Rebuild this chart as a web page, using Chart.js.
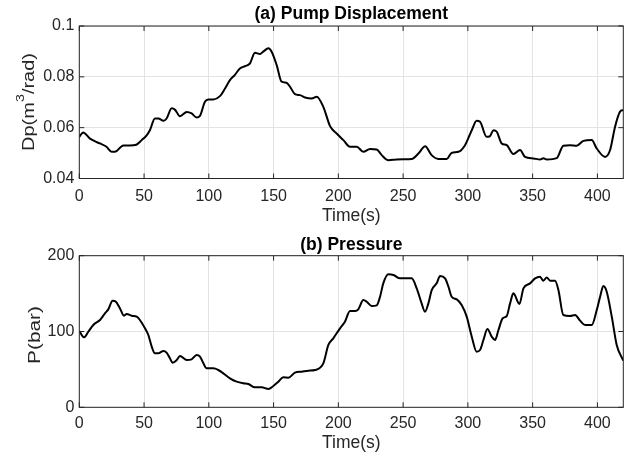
<!DOCTYPE html>
<html>
<head>
<meta charset="utf-8">
<script src="https://cdn.jsdelivr.net/npm/chart.js@4"></script>
<style>
  body { margin: 0; background: #fff; }
  .panel { position: absolute; left: 0; }
  canvas { display: block; }
</style>
</head>
<body>
<div class="panel" style="top:0"><canvas id="pump" width="632" height="228"></canvas></div>
<div class="panel" style="top:228px"><canvas id="pres" width="632" height="229"></canvas></div>
<script>
// (a) pump displacement
var dispTime = [0,3,8,13,16,21,25,27.5,34,39,44,48,52,54.5,58.4,61,65,67.4,71.3,74,77.7,83,86.7,90.6,93,97,99.6,103.5,108.6,112.5,116.3,120,124,128,131.8,135.6,139.5,142,146,148.5,152.4,156.2,160,162.7,166.5,170.4,174.3,179.4,183.3,188.4,193.6,198.7,203.9,209,214.2,219.3,224.5,229.6,233.5,238.6,245,250.2,256.6,261.8,267,272,277.2,283.7,287.5,292.7,297.8,303,306.8,309.4,314.5,317.1,319.7,322.3,326.1,330,335.1,340.3,344.1,350.6,355.7,358.3,360.9,368.6,373.7,378.9,384,389.2,395.6,399.5,405.9,409.8,413.6,417.5,420];
var dispValue = [0.0564,0.0581,0.0558,0.0544,0.0538,0.0525,0.0505,0.0505,0.053,0.053,0.0533,0.055,0.057,0.059,0.0636,0.0636,0.0627,0.0636,0.0676,0.067,0.0645,0.0662,0.0656,0.064,0.0645,0.0702,0.0711,0.0711,0.0724,0.0754,0.0787,0.0807,0.0833,0.0842,0.0853,0.0895,0.089,0.0899,0.0912,0.0899,0.0846,0.0781,0.0777,0.0761,0.0732,0.0728,0.0719,0.0715,0.0722,0.0682,0.0606,0.0577,0.0551,0.0525,0.0525,0.0505,0.0516,0.0514,0.0492,0.0472,0.0475,0.0476,0.0477,0.0498,0.0527,0.0492,0.0477,0.0477,0.0501,0.0505,0.0531,0.059,0.0627,0.0623,0.0564,0.0567,0.059,0.0584,0.0538,0.0531,0.0496,0.0512,0.0485,0.0479,0.0475,0.048,0.0475,0.048,0.0529,0.0531,0.0529,0.0548,0.0551,0.0518,0.0485,0.0512,0.0603,0.0663,0.0669];

// (b) pressure
var presTime = [0,3.6,7,10.8,16,19.8,22.4,25.7,28.3,31.4,34.5,36.6,40.4,44.3,46.8,50.7,53.3,55.9,58.4,61,64.9,67.4,70,72,75.2,77.7,83,86.7,90.6,93.2,95.8,98.3,103.5,107.3,111.2,116.3,121.5,126.6,130.5,135.6,140.8,146,149.8,153.7,157.5,161.4,166.5,171.7,176.8,182,188.4,192.3,196.1,201.3,205.1,209,212.9,215.4,219.3,221.9,225.7,229.6,232.2,234.7,238.6,242.5,247.6,252.8,256.6,260.5,264.3,266.9,269.5,272.1,275.9,278.5,282.4,285,287.5,291.4,295.2,299.1,303,306.8,309.4,312,315.1,318.4,321,323.6,326.9,330,332.6,335.1,339.8,342.9,348,351.9,355.7,358.3,360.9,363.5,367.3,369.9,373.7,378.9,382.8,386.6,390.5,395.6,399.5,402.1,404.6,407.2,411.1,414.9,420];
var presValue = [100.7,92.3,99.8,108.6,115.2,124,129.2,140.7,139.3,130.5,120.9,123.1,120.9,119.6,115.2,104.2,95.4,80,71.2,71.2,74.3,72.1,64.6,58.9,62.4,67.7,62.4,63.3,69,66.8,58,51.4,51.4,49.2,44.8,38.2,33.8,31.6,30.7,26.4,26.4,24.2,28.1,33.8,39.5,39.1,45.7,47,48.3,49.2,58,82.2,91,104.2,113,127,127,129.2,141.5,139.3,133.6,134.5,145.9,163.5,175.4,174.5,170.1,170.1,170.1,156.9,137.1,126.1,137.1,154.7,163.5,173.2,170.1,159.1,145.9,142.4,134.9,119.6,93.2,73.4,75.6,88.8,103.3,93.2,88.8,102,117.4,120.4,137.1,150.3,136.3,156.9,163.5,170.1,172.3,167,171.4,167,167,154.7,121.8,120.4,121.8,114.3,108.6,108.6,128.3,145.9,160,152.5,119.6,82.2,61.5];

var timeTicks = [0,50,100,150,200,250,300,350,400];
var dispTicks = [0.04,0.06,0.08,0.1];
var presTicks = [0,100,200];

var FONT = "'Liberation Sans', Arial, sans-serif";
var AXIS = "#262626";

// matlab style box with inward tick marks
var boxPlugin = {
  id: "box",
  afterDraw: function(chart) {
    var ctx = chart.ctx, a = chart.chartArea;
    var x = chart.scales.x, y = chart.scales.y;
    ctx.save();
    ctx.strokeStyle = AXIS;
    ctx.lineWidth = 1;
    ctx.strokeRect(a.left, a.top, a.right - a.left, a.bottom - a.top);
    ctx.beginPath();
    x.ticks.forEach(function(t) {
      var px = x.getPixelForValue(t.value);
      ctx.moveTo(px, a.bottom); ctx.lineTo(px, a.bottom - 5);
      ctx.moveTo(px, a.top); ctx.lineTo(px, a.top + 5);
    });
    y.ticks.forEach(function(t) {
      var py = y.getPixelForValue(t.value);
      ctx.moveTo(a.left, py); ctx.lineTo(a.left + 5, py);
      ctx.moveTo(a.right, py); ctx.lineTo(a.right - 5, py);
    });
    ctx.stroke();
    ctx.restore();
  }
};

// rotated y label, drawn by hand so the superscript works
var yLabelPlugin = {
  id: "ylabel",
  afterDraw: function(chart, args, opts) {
    var ctx = chart.ctx;
    ctx.save();
    ctx.fillStyle = AXIS;
    ctx.textBaseline = "alphabetic";
    var total = 0;
    opts.parts.forEach(function(p) {
      ctx.font = p.size + "px " + FONT;
      p.w = ctx.measureText(p.text).width;
      total += p.w;
    });
    ctx.translate(opts.x, opts.y);
    ctx.rotate(-Math.PI / 2);
    ctx.scale(opts.stretch, 1);
    var pos = -total / 2;
    opts.parts.forEach(function(p) {
      ctx.font = p.size + "px " + FONT;
      ctx.fillText(p.text, pos, p.rise ? -p.rise : 0);
      pos += p.w;
    });
    ctx.restore();
  }
};

function makeChart(id, cfg) {
  var pts = cfg.time.map(function(t, i) { return {x: t, y: cfg.values[i]}; });
  return new Chart(document.getElementById(id), {
    type: "line",
    data: {
      datasets: [{
        data: pts,
        borderColor: "#000",
        borderWidth: 2,
        pointRadius: 0,
        cubicInterpolationMode: "monotone",
        fill: false
      }]
    },
    options: {
      responsive: false,
      animation: false,
      layout: { padding: { left: 0, right: 8.7, top: 0, bottom: 0 } },
      plugins: {
        legend: { display: false },
        tooltip: { enabled: false },
        title: {
          display: true,
          text: cfg.title,
          color: "#000",
          fullSize: false,
          font: { family: FONT, size: 17.5, weight: "bold" },
          padding: cfg.titlePad
        },
        ylabel: cfg.ylabel
      },
      scales: {
        x: {
          type: "linear",
          min: 0,
          max: 420,
          afterBuildTicks: function(s) { s.ticks = timeTicks.map(function(n) { return {value: n}; }); },
          afterFit: function(s) { s.height = cfg.canvasH - cfg.plotBottom; },
          border: { display: false },
          grid: { color: "#e3e3e3", drawTicks: false },
          ticks: { color: AXIS, padding: cfg.tickPad, maxRotation: 0, font: { family: FONT, size: 16 } },
          title: { display: true, text: "Time(s)", color: AXIS, font: { family: FONT, size: 17.5 }, padding: { top: 0, bottom: cfg.timePad } }
        },
        y: {
          min: cfg.yTicks[0],
          max: cfg.yTicks[cfg.yTicks.length - 1],
          afterBuildTicks: function(s) { s.ticks = cfg.yTicks.map(function(n) { return {value: n}; }); },
          afterFit: function(s) { s.width = 79.3; },
          border: { display: false },
          grid: { color: "#e3e3e3", drawTicks: false },
          ticks: {
            color: AXIS, padding: 5, font: { family: FONT, size: 16 },
            callback: function(val) { return String(+Number(val).toFixed(2)); }
          }
        }
      }
    },
    plugins: [boxPlugin, yLabelPlugin]
  });
}

makeChart("pump", {
  time: dispTime, values: dispValue, yTicks: dispTicks,
  title: "(a) Pump Displacement", titlePad: { top: 3.7, bottom: 1.3 },
  plotBottom: 178.5, canvasH: 228, tickPad: 8, timePad: 1.5,
  ylabel: { x: 34, y: 102, stretch: 1.25, parts: [
    { text: "Dp(m", size: 16 }, { text: "3", size: 11.5, rise: 10.5 }, { text: "/rad)", size: 16 }
  ] }
});
makeChart("pres", {
  time: presTime, values: presValue, yTicks: presTicks,
  title: "(b) Pressure", titlePad: { top: 6.7, bottom: 0 },
  plotBottom: 179.3, canvasH: 229, tickPad: 7, timePad: 3.5,
  ylabel: { x: 40, y: 107, stretch: 1.3, parts: [ { text: "P(bar)", size: 16 } ] }
});
</script>
</body>
</html>
